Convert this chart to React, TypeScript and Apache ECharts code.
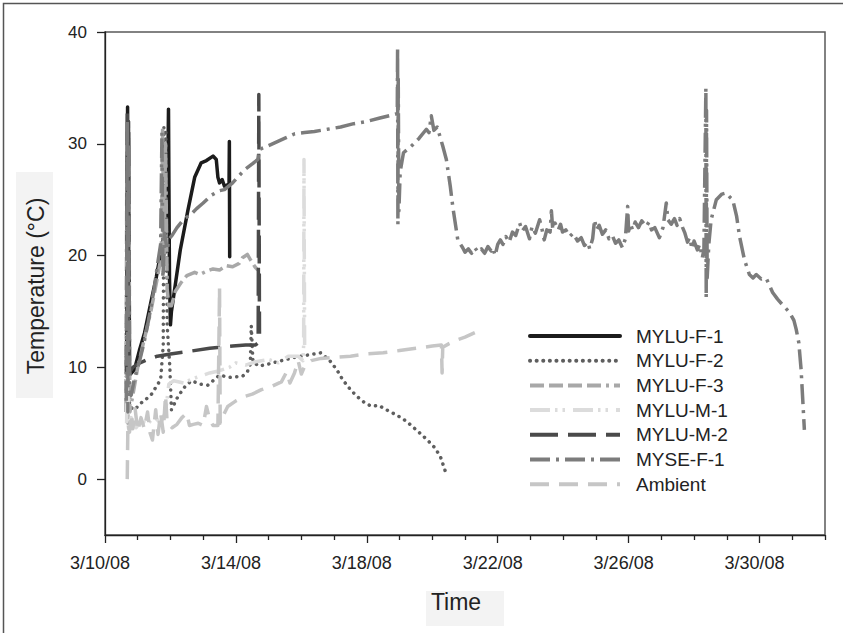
import React, { useEffect, useRef } from "react";
import * as echarts from "echarts";

// x values are days after 3/10/08 00:00
const X_TICK_DAYS = [0, 4, 8, 12, 16, 20];
const X_TICK_LABELS = ["3/10/08", "3/14/08", "3/18/08", "3/22/08", "3/26/08", "3/30/08"];
const X_MINOR_DAYS = [1, 2, 3, 5, 6, 7, 9, 10, 11, 13, 14, 15, 17, 18, 19, 21, 22];
const Y_TICKS = [0, 10, 20, 30, 40];

const MYLU_F_1 = [
  [0.66, 10], [0.69, 33.3], [0.71, 9.5], [0.72, 31], [0.75, 9.3], [0.9, 9.8], [1.05, 11.5],
  [1.21, 13.1], [1.4, 15.8], [1.57, 18.1], [1.77, 21.4], [1.9, 22.5], [1.94, 33.1], [1.97, 18],
  [2.0, 13.8], [2.03, 15], [2.08, 16], [2.3, 20.5], [2.53, 24], [2.74, 27], [2.94, 28.3],
  [3.1, 28.5], [3.3, 28.9], [3.4, 28.6], [3.45, 27], [3.5, 26.5], [3.58, 26.8], [3.65, 26.2],
  [3.79, 26.4], [3.8, 30.2], [3.81, 19.9],
];

const MYLU_F_2 = [
  [0.65, 8], [0.68, 30], [0.7, 6], [0.72, 28], [0.75, 6.5], [0.9, 6.2], [1.1, 6.8], [1.4, 7.5],
  [1.7, 8.9], [1.78, 12], [1.8, 31.5], [1.83, 20], [1.86, 31], [1.9, 13.7], [1.98, 10.1],
  [2.03, 6.2], [2.23, 7.4], [2.45, 8.3], [2.64, 8.8], [2.9, 8.5], [3.14, 8.4], [3.3, 8.8],
  [3.5, 9.3], [3.8, 9.1], [4.2, 9.2], [4.35, 9.6], [4.44, 10.3], [4.47, 13.7], [4.52, 10.5],
  [4.7, 10.1], [5.0, 10.3], [5.4, 10.6], [5.8, 10.9], [6.2, 11.1], [6.6, 11.3], [6.9, 10.5],
  [7.1, 9.7], [7.26, 8.9], [7.5, 8.0], [7.7, 7.4], [7.95, 6.8], [8.15, 6.5], [8.36, 6.6],
  [8.6, 6.2], [8.93, 5.7], [9.2, 5.2], [9.59, 4.2], [9.85, 3.5], [10.08, 2.8], [10.25, 2.0],
  [10.41, 0.6],
];

const MYLU_F_3 = [
  [0.64, 6], [0.67, 31], [0.7, 5], [0.73, 28], [0.76, 6], [0.85, 7.5], [1.0, 10], [1.2, 12.5],
  [1.4, 15], [1.6, 18], [1.72, 20], [1.76, 31.5], [1.8, 19], [1.85, 30], [1.9, 17], [1.95, 15.5],
  [2.03, 15.5], [2.15, 16.8], [2.33, 17.6], [2.5, 18.2], [2.74, 18.5], [2.9, 18.3], [3.1, 18.6],
  [3.3, 18.8], [3.5, 18.7], [3.7, 19.1], [3.9, 19.0], [4.1, 19.3], [4.2, 19.8], [4.35, 20.1],
  [4.45, 19.6], [4.58, 19.0], [4.67, 18.7],
];

const MYLU_M_1 = [
  [0.66, 5], [0.7, 14], [0.72, 4.5], [0.8, 5.5], [0.95, 4.6], [1.1, 5.2], [1.3, 4.9],
  [1.5, 5.6], [1.7, 5.0], [1.85, 6], [1.95, 8.5], [2.1, 8.8], [2.4, 8.6], [2.7, 9.0],
  [3.0, 9.3], [3.2, 9.5], [3.5, 9.7], [3.8, 10.0], [4.0, 10.4], [4.3, 10.2], [4.6, 10.5],
  [5.0, 10.7], [5.3, 10.4], [5.6, 11.0], [5.9, 11.0], [6.05, 10.6], [6.07, 12], [6.08, 28.6],
  [6.1, 12],
];

const MYLU_M_2 = [
  [0.66, 9.5], [0.68, 33], [0.7, 9.3], [0.72, 32], [0.74, 9.5], [0.85, 10.0], [1.0, 10.3],
  [1.3, 10.7], [1.6, 11.0], [2.0, 11.2], [2.5, 11.4], [3.2, 11.7], [3.9, 11.9], [4.3, 12.0],
  [4.6, 12.0], [4.68, 12.2], [4.7, 34.4], [4.72, 13],
];

const MYSE_F_1 = [
  [0.65, 7], [0.68, 32], [0.7, 6], [0.72, 30], [0.75, 8], [0.8, 7.5], [0.9, 9], [1.05, 10.5],
  [1.2, 12.3], [1.35, 14.5], [1.5, 17], [1.62, 19.5], [1.7, 21], [1.74, 31], [1.77, 18],
  [1.82, 22], [1.9, 20.5], [1.96, 21.5], [2.05, 21.8], [2.2, 22.5], [2.42, 23.3], [2.6, 23.6],
  [2.8, 24.2], [3.0, 24.7], [3.25, 25.4], [3.5, 25.8], [3.65, 25.9], [3.9, 26.5], [4.27, 27.7],
  [4.5, 28.2], [4.67, 28.6], [4.72, 29.5], [4.9, 29.7], [5.2, 30.1], [5.5, 30.5], [5.8, 30.9],
  [6.1, 31.0], [6.4, 31.1], [6.8, 31.3], [7.2, 31.5], [7.6, 31.8], [8.0, 32.0], [8.4, 32.3],
  [8.8, 32.6], [8.93, 32.7], [8.94, 38.6], [8.95, 22.8], [8.96, 36], [8.98, 24], [9.02, 27.5],
  [9.12, 29.2], [9.4, 29.9], [9.6, 30.5], [9.82, 31.3], [9.9, 31.0], [9.97, 32.5], [10.05, 31.2],
  [10.15, 31.5], [10.32, 29.8], [10.43, 28.6], [10.55, 26.2], [10.63, 24.3], [10.78, 21.4],
  [10.93, 20.7], [11.0, 20.3], [11.1, 20.6], [11.2, 20.2], [11.3, 20.7], [11.4, 20.3],
  [11.5, 20.6], [11.6, 20.2], [11.7, 20.8], [11.8, 20.4], [11.85, 20.7], [11.92, 20.0],
  [12.0, 21.0], [12.08, 21.4], [12.16, 21.0], [12.25, 21.7], [12.35, 21.2], [12.45, 22.1],
  [12.55, 21.8], [12.67, 22.9], [12.75, 22.2], [12.85, 22.6], [12.97, 21.5], [13.05, 22.6],
  [13.15, 22.0], [13.28, 23.2], [13.35, 22.4], [13.42, 21.4], [13.5, 22.3], [13.6, 22.1],
  [13.64, 24], [13.68, 22.4], [13.75, 22.9], [13.85, 22.3], [13.92, 22.8], [13.98, 22.1],
  [14.08, 22.3], [14.2, 21.7], [14.3, 22.0], [14.44, 21.3], [14.55, 21.6], [14.65, 20.9],
  [14.75, 21.2], [14.81, 20.6], [14.9, 21.5], [14.96, 23.2], [15.02, 22.3], [15.1, 22.7],
  [15.2, 21.9], [15.3, 22.3], [15.4, 21.5], [15.5, 21.8], [15.6, 21.1], [15.7, 21.4],
  [15.81, 20.7], [15.9, 21.5], [15.97, 24.4], [16.0, 22.2], [16.06, 22.8], [16.12, 22.3],
  [16.2, 23.0], [16.3, 22.5], [16.4, 23.1], [16.54, 22.6], [16.62, 23.0], [16.7, 22.3],
  [16.8, 22.5], [16.94, 21.6], [17.05, 22.5], [17.15, 24.7], [17.2, 23.2], [17.3, 22.8],
  [17.4, 23.3], [17.48, 22.7], [17.56, 23.3], [17.65, 22.5], [17.72, 22.0], [17.8, 21.2],
  [17.86, 21.6], [17.94, 20.6], [18.0, 21.3], [18.1, 20.5], [18.17, 21.0], [18.25, 19.8],
  [18.3, 20.5], [18.36, 35], [18.37, 16.2], [18.38, 33], [18.4, 18], [18.45, 21],
  [18.52, 23.2], [18.68, 25], [18.85, 25.5], [18.98, 25.6], [19.1, 25.2], [19.18, 25],
  [19.3, 23.5], [19.39, 21.7], [19.54, 19.6], [19.69, 18.3], [19.8, 18.0], [19.9, 18.3],
  [20.05, 17.9], [20.2, 18], [20.4, 16.7], [20.55, 16.1], [20.7, 15.6], [20.92, 14.9],
  [21.05, 14.2], [21.12, 13.4], [21.2, 12.2], [21.27, 9.8], [21.37, 4.4],
];

const AMBIENT = [
  [0.68, 0], [0.7, 5], [0.75, 4.2], [0.8, 5.8], [0.85, 4.5], [0.92, 6.3], [1.0, 4.3],
  [1.1, 5.5], [1.2, 4.5], [1.3, 6.0], [1.38, 4.1], [1.45, 3.5], [1.55, 6.2], [1.62, 4.0],
  [1.7, 5.9], [1.78, 4.2], [1.85, 7.5], [1.9, 5], [2.05, 4.6], [2.2, 4.9], [2.35, 5.5],
  [2.5, 5.9], [2.58, 4.8], [2.7, 4.9], [2.85, 5.0], [3.0, 4.8], [3.1, 6.5], [3.2, 5.3],
  [3.3, 4.8], [3.45, 4.8], [3.5, 17.1], [3.52, 5], [3.6, 5.6], [3.75, 6.5], [4.0, 7.0],
  [4.27, 7.4], [4.5, 7.6], [4.78, 8.0], [5.1, 8.3], [5.39, 8.7], [5.55, 9.6], [5.65, 8.6],
  [5.79, 9.5], [5.9, 10.6], [6.0, 9.4], [6.1, 10.1], [6.3, 10.6], [6.6, 10.8], [7.0, 10.9],
  [7.5, 11.0], [8.0, 11.2], [8.5, 11.3], [9.0, 11.5], [9.5, 11.7], [10.0, 11.9], [10.28, 12.0],
  [10.3, 9.5], [10.32, 11.8], [10.5, 12.1], [10.8, 12.5], [11.0, 12.7], [11.3, 13.1],
];

const FONT = 'Arial, "Liberation Sans", Helvetica, sans-serif';

function mk(name: string, data: number[][], color: string, width: number, dash: any, cap = "butt") {
  return {
    type: "line",
    name,
    data,
    symbol: "none",
    showSymbol: false,
    clip: true,
    xAxisIndex: 0,
    itemStyle: { color },
    lineStyle: { color, width, type: dash, cap, join: "round" },
  };
}

export default function App() {
  const ref = useRef<HTMLDivElement>(null);
  useEffect(() => {
    if (!ref.current) return;
    const chart = echarts.init(ref.current, null, { renderer: "svg" });
    const axisCol = "#222";
    chart.setOption({
      animation: false,
      backgroundColor: "#ffffff",
      grid: {
        left: 105,
        top: 32,
        width: 720,
        height: 503,
        show: true,
        borderColor: "#5a5a5a",
        borderWidth: 1.5,
        backgroundColor: "transparent",
      },
      xAxis: [
        {
          type: "value",
          min: 0,
          max: 22,
          position: "bottom",
          axisLine: { show: true, onZero: false, lineStyle: { color: axisCol, width: 1.3 } },
          axisTick: { show: true, customValues: X_TICK_DAYS, length: 8, lineStyle: { color: axisCol, width: 1.3 } },
          axisLabel: {
            show: true,
            customValues: X_TICK_DAYS,
            formatter: (v: number) => {
              const i = X_TICK_DAYS.indexOf(Math.round(v));
              return i >= 0 ? X_TICK_LABELS[i] : "";
            },
            margin: 19,
            fontSize: 18,
            color: axisCol,
            fontFamily: FONT,
            padding: [0, 10, 0, 0],
          },
          splitLine: { show: false },
        },
        {
          type: "value",
          min: 0,
          max: 22,
          position: "bottom",
          axisLine: { show: false, onZero: false },
          axisTick: { show: true, customValues: X_MINOR_DAYS, length: 5, lineStyle: { color: axisCol, width: 1.3 } },
          axisLabel: { show: false },
          splitLine: { show: false },
        },
      ],
      yAxis: {
        type: "value",
        min: -5,
        max: 40,
        axisLine: { show: true, onZero: false, lineStyle: { color: axisCol, width: 1.3 } },
        axisTick: { show: true, customValues: Y_TICKS, length: 8, lineStyle: { color: axisCol, width: 1.3 } },
        axisLabel: {
          show: true,
          customValues: Y_TICKS,
          margin: 18,
          fontSize: 17,
          color: axisCol,
          fontFamily: FONT,
        },
        splitLine: { show: false },
      },
      legend: {
        orient: "vertical",
        left: 523,
        top: 321,
        itemWidth: 90,
        itemHeight: 14,
        itemGap: 4.7,
        itemStyle: { opacity: 0 },
        lineStyle: { width: 4 },
        selectedMode: false,
        textStyle: { fontSize: 19, color: axisCol, fontFamily: FONT, padding: [0, 0, 0, 11], lineHeight: 20 },
        data: ["MYLU-F-1", "MYLU-F-2", "MYLU-F-3", "MYLU-M-1", "MYLU-M-2", "MYSE-F-1", "Ambient"],
      },
      graphic: [
        {
          type: "rect",
          silent: true,
          shape: { x: 3.5, y: 3.5, width: 860, height: 660 },
          style: { fill: "none", stroke: "#555", lineWidth: 1.5 },
        },
        { type: "rect", silent: true, shape: { x: 16, y: 172, width: 37, height: 226 }, style: { fill: "#f3f3f3" } },
        {
          type: "text",
          silent: true,
          x: 36,
          y: 286,
          rotation: Math.PI / 2,
          style: { text: "Temperature (°C)", fontSize: 23, fontFamily: FONT, fill: axisCol, align: "center", verticalAlign: "middle" },
        },
        { type: "rect", silent: true, shape: { x: 426, y: 591, width: 78, height: 35 }, style: { fill: "#f3f3f3" } },
        {
          type: "text",
          silent: true,
          x: 456,
          y: 602,
          style: { text: "Time", fontSize: 23, fontFamily: FONT, fill: axisCol, align: "center", verticalAlign: "middle" },
        },
      ],
      series: [
        mk("MYLU-F-1", MYLU_F_1, "#1c1c1c", 3.5, "solid", "round"),
        mk("MYLU-F-2", MYLU_F_2, "#5e5e5e", 3.5, [0.1, 6.5], "round"),
        mk("MYLU-F-3", MYLU_F_3, "#a8a8a8", 3.5, [14, 5, 14, 5, 14, 5, 14, 5, 3, 5]),
        mk("MYLU-M-1", MYLU_M_1, "#dcdcdc", 3.5, [20, 5, 2.5, 5, 2.5, 8]),
        mk("MYLU-M-2", MYLU_M_2, "#4a4a4a", 3.5, [28, 10]),
        mk("MYSE-F-1", MYSE_F_1, "#7c7c7c", 3.5, [20, 6, 3, 6]),
        mk("Ambient", AMBIENT, "#c6c6c6", 3.5, [19, 10]),
      ],
    });
    return () => chart.dispose();
  }, []);
  return <div ref={ref} style={{ position: "fixed", left: 0, top: 0, width: 843, height: 633 }} />;
}
